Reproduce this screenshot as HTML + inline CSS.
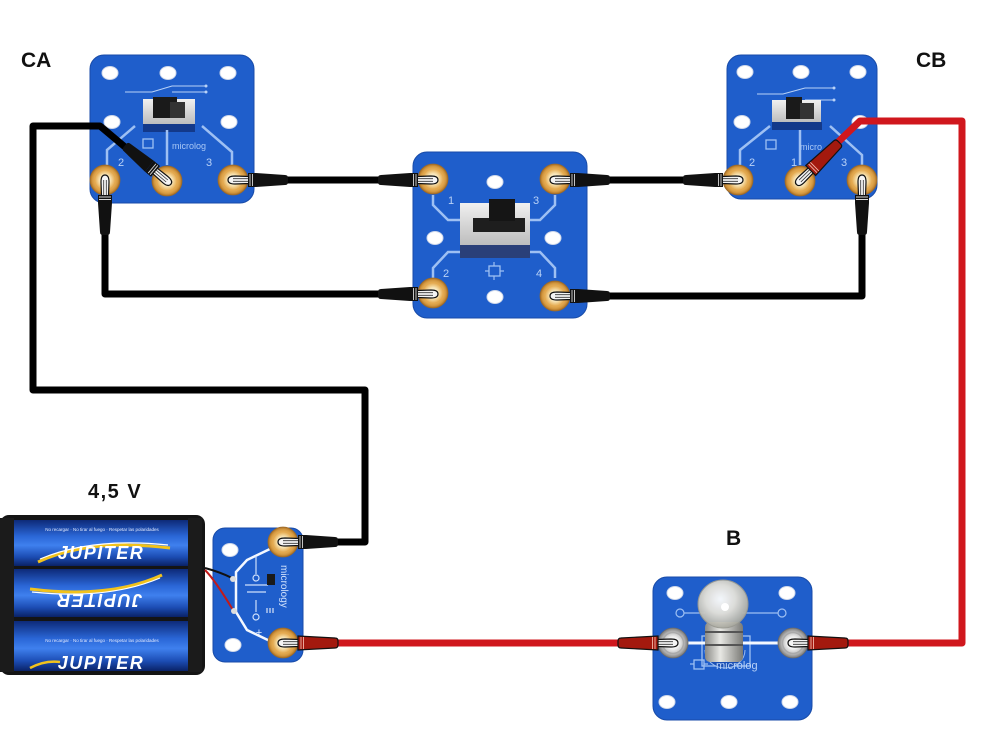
<!DOCTYPE html>
<html><head><meta charset="utf-8"><style>
html,body{margin:0;padding:0;background:#fff;}
svg{display:block;}
text{font-family:"Liberation Sans",sans-serif;}
</style></head><body>
<svg width="996" height="738" viewBox="0 0 996 738" xmlns="http://www.w3.org/2000/svg">
<defs>
 <radialGradient id="gold" cx="50%" cy="50%" r="50%">
  <stop offset="0" stop-color="#fffaf0"/>
  <stop offset="0.35" stop-color="#f8e6b8"/>
  <stop offset="0.6" stop-color="#e9b765"/>
  <stop offset="0.85" stop-color="#d3973e"/>
  <stop offset="1" stop-color="#a86c24"/>
 </radialGradient>
 <radialGradient id="silver" cx="50%" cy="50%" r="50%">
  <stop offset="0" stop-color="#ffffff"/>
  <stop offset="0.4" stop-color="#f0f0f0"/>
  <stop offset="0.7" stop-color="#c4c4c4"/>
  <stop offset="1" stop-color="#7a7a7a"/>
 </radialGradient>
 <linearGradient id="batt" x1="0" y1="0" x2="0" y2="1">
  <stop offset="0" stop-color="#0d2a78"/>
  <stop offset="0.35" stop-color="#2a66d6"/>
  <stop offset="0.55" stop-color="#3f80ee"/>
  <stop offset="0.8" stop-color="#1c4db4"/>
  <stop offset="1" stop-color="#0a2266"/>
 </linearGradient>
 <linearGradient id="sw" x1="0" y1="0" x2="0" y2="1">
  <stop offset="0" stop-color="#f0f0f0"/>
  <stop offset="1" stop-color="#bdbdbd"/>
 </linearGradient>
 <radialGradient id="glass" cx="45%" cy="40%" r="60%">
  <stop offset="0" stop-color="#ffffff"/>
  <stop offset="0.5" stop-color="#e6e3da"/>
  <stop offset="1" stop-color="#a9a9a0"/>
 </radialGradient>
 <linearGradient id="base" x1="0" y1="0" x2="1" y2="0">
  <stop offset="0" stop-color="#8a8a86"/>
  <stop offset="0.4" stop-color="#e8e8e4"/>
  <stop offset="1" stop-color="#7a7a76"/>
 </linearGradient>

 <g id="tg">
  <circle r="15" fill="url(#gold)" stroke="#9a6a2a" stroke-width="0.8"/>
  <circle r="10.5" fill="none" stroke="#e4a74c" stroke-width="1.5" opacity="0.8"/>
 </g>
 <g id="ts">
  <circle r="15" fill="url(#silver)" stroke="#6a6a6a" stroke-width="0.8"/>
  <circle r="10.5" fill="none" stroke="#aaa" stroke-width="1.5"/>
 </g>
 <g id="hole"><ellipse rx="8" ry="6.5" fill="#fff" stroke="#cfd8ea" stroke-width="1"/></g>

 <g id="pb">
  <path d="M-5,0 Q-5,-4 2,-4 L16,-3.5 L16,3.5 L2,4 Q-5,4 -5,0Z" fill="#f4f4f4" stroke="#111" stroke-width="1.2"/>
  <path d="M0,-1.3 L15,-1.3 M0,1.3 L15,1.3" stroke="#333" stroke-width="0.8"/>
  <rect x="15" y="-7" width="8" height="14" fill="#111"/>
  <path d="M17,-6V6 M19.5,-6V6" stroke="#d8d8d8" stroke-width="0.9"/>
  <path d="M23,-7 L52,-5 Q55,-5 55,-2 V2 Q55,5 52,5 L23,7Z" fill="#111"/>
 </g>
 <g id="pr">
  <path d="M-5,0 Q-5,-4 2,-4 L16,-3.5 L16,3.5 L2,4 Q-5,4 -5,0Z" fill="#f4f4f4" stroke="#111" stroke-width="1.2"/>
  <path d="M0,-1.3 L15,-1.3 M0,1.3 L15,1.3" stroke="#333" stroke-width="0.8"/>
  <path d="M15,-7 L52,-5 Q55,-5 55,-2 V2 Q55,5 52,5 L15,7Z" fill="#a3190e" stroke="#111" stroke-width="1.2"/>
  <path d="M18,-6V6 M20.5,-6V6" stroke="#f2b6a8" stroke-width="0.9"/>
 </g>
</defs>

<rect width="996" height="738" fill="#fff"/>

<!-- labels -->
<text x="21" y="67" font-size="21" font-weight="bold" fill="#111">CA</text>
<text x="916" y="67" font-size="21" font-weight="bold" fill="#111">CB</text>
<text x="88" y="498" font-size="20" font-weight="bold" fill="#111" letter-spacing="1.5">4,5 V</text>
<text x="726" y="545" font-size="21" font-weight="bold" fill="#111">B</text>

<!-- ============ CA board ============ -->
<rect x="90" y="55" width="164" height="148" rx="14" fill="#1f5ecb" stroke="#184ba8" stroke-width="1"/>
<use href="#hole" x="110" y="73"/><use href="#hole" x="168" y="73"/><use href="#hole" x="228" y="73"/>
<use href="#hole" x="112" y="122"/><use href="#hole" x="229" y="122"/>
<path d="M125,92 L152,92 L172,86 L180,86 L205,86 M172,92 L205,92" stroke="#b9d2f7" stroke-width="1" fill="none"/>
<circle cx="206" cy="86" r="1.5" fill="#b9d2f7"/><circle cx="206" cy="92" r="1.5" fill="#b9d2f7"/>
<rect x="143" y="124" width="52" height="8" fill="#13398a"/>
<path d="M107,165 L107,150 L135,126 M167,165 L167,130 M232,165 L232,152 L202,126" stroke="#9ec0f3" stroke-width="2.5" fill="none"/>
<rect x="143" y="99" width="52" height="25" fill="url(#sw)"/>
<rect x="153" y="97" width="24" height="21" fill="#1a1a1a"/>
<rect x="170" y="102" width="15" height="16" fill="#333"/>
<text x="118" y="166" font-size="11" fill="#b9d2f7">2</text>
<text x="206" y="166" font-size="11" fill="#b9d2f7">3</text>
<rect x="143" y="139" width="10" height="9" fill="none" stroke="#9ec0f3" stroke-width="1.3"/>
<text x="172" y="149" font-size="9" fill="#a9c8f6">microlog</text>
<use href="#tg" x="105" y="180"/><use href="#tg" x="167" y="181"/><use href="#tg" x="233" y="180"/>

<!-- ============ CB board ============ -->
<rect x="727" y="55" width="150" height="144" rx="14" fill="#1f5ecb" stroke="#184ba8" stroke-width="1"/>
<use href="#hole" x="745" y="72"/><use href="#hole" x="801" y="72"/><use href="#hole" x="858" y="72"/>
<use href="#hole" x="742" y="122"/><use href="#hole" x="860" y="122"/>
<path d="M757,94 L783,94 L805,88 L833,88 M805,100 L833,100" stroke="#b9d2f7" stroke-width="1" fill="none"/>
<circle cx="834" cy="88" r="1.5" fill="#b9d2f7"/><circle cx="834" cy="100" r="1.5" fill="#b9d2f7"/>
<rect x="772" y="122" width="50" height="8" fill="#13398a"/>
<path d="M740,165 L740,150 L770,126 M800,165 L800,130 M862,165 L862,155 L830,126" stroke="#9ec0f3" stroke-width="2.5" fill="none"/>
<rect x="772" y="100" width="49" height="22" fill="url(#sw)"/>
<rect x="786" y="97" width="16" height="22" fill="#1a1a1a"/>
<rect x="800" y="103" width="14" height="16" fill="#333"/>
<text x="749" y="166" font-size="11" fill="#b9d2f7">2</text>
<text x="791" y="166" font-size="11" fill="#b9d2f7">1</text>
<text x="841" y="166" font-size="11" fill="#b9d2f7">3</text>
<rect x="766" y="140" width="10" height="9" fill="none" stroke="#9ec0f3" stroke-width="1.3"/>
<text x="800" y="150" font-size="9" fill="#a9c8f6">micro</text>
<use href="#tg" x="738" y="180"/><use href="#tg" x="800" y="181"/><use href="#tg" x="862" y="180"/>

<!-- ============ Middle switch board ============ -->
<rect x="413" y="152" width="174" height="166" rx="14" fill="#1f5ecb" stroke="#184ba8" stroke-width="1"/>
<use href="#hole" x="495" y="182"/><use href="#hole" x="435" y="238"/><use href="#hole" x="553" y="238"/><use href="#hole" x="495" y="297"/>
<path d="M433,195 L433,205 L448,220 L462,220 M555,195 L555,205 L540,220 L528,220 M433,278 L433,268 L448,252 L462,252 M555,278 L555,268 L540,252 L528,252" stroke="#9ec0f3" stroke-width="2.5" fill="none"/>
<rect x="460" y="203" width="70" height="42" fill="url(#sw)"/>
<rect x="460" y="245" width="70" height="13" fill="#2a3f78"/>
<rect x="473" y="218" width="52" height="14" fill="#1e1e1e"/>
<rect x="489" y="199" width="26" height="22" fill="#151515"/>
<text x="448" y="204" font-size="11" fill="#b9d2f7">1</text>
<text x="533" y="204" font-size="11" fill="#b9d2f7">3</text>
<text x="443" y="277" font-size="11" fill="#b9d2f7">2</text>
<text x="536" y="277" font-size="11" fill="#b9d2f7">4</text>
<rect x="489" y="266" width="11" height="10" fill="none" stroke="#9ec0f3" stroke-width="1.3"/>
<path d="M485,271 H489 M500,271 H504 M494,262 V266 M494,276 V280" stroke="#9ec0f3" stroke-width="1.2"/>
<use href="#tg" x="433" y="179"/><use href="#tg" x="555" y="179"/><use href="#tg" x="433" y="293"/><use href="#tg" x="555" y="296"/>

<!-- ============ Battery holder ============ -->
<rect x="0" y="515" width="205" height="160" rx="9" fill="#141414"/>
<rect x="10" y="520" width="184" height="46" rx="4" fill="url(#batt)"/>
<rect x="10" y="569" width="184" height="48" rx="4" fill="url(#batt)"/>
<rect x="10" y="621" width="184" height="50" rx="4" fill="url(#batt)"/>
<rect x="0" y="518" width="14" height="154" fill="#1b1b1b"/>
<rect x="188" y="518" width="14" height="154" fill="#1b1b1b"/>
<text x="102" y="531" font-size="4.5" fill="#dfe8ff" text-anchor="middle">No recargar · No tirar al fuego · Respetar las polaridades</text>
<path d="M38,562 Q90,538 170,548" stroke="#f1c21c" stroke-width="3" fill="none"/>
<path d="M40,559 Q92,537 168,545" stroke="#fff" stroke-width="1.2" fill="none"/>
<text x="101" y="559" font-size="18" font-weight="bold" font-style="italic" fill="#fff" text-anchor="middle" letter-spacing="1.5">JUPITER</text>
<g transform="rotate(180 100 593)">
 <path d="M38,611 Q90,587 170,597" stroke="#f1c21c" stroke-width="3" fill="none"/>
 <path d="M40,608 Q92,586 168,594" stroke="#fff" stroke-width="1.2" fill="none"/>
 <text x="101" y="592" font-size="18" font-weight="bold" font-style="italic" fill="#fff" text-anchor="middle" letter-spacing="1.5">JUPITER</text>
</g>
<text x="102" y="642" font-size="4.5" fill="#dfe8ff" text-anchor="middle">No recargar · No tirar al fuego · Respetar las polaridades</text>
<text x="101" y="669" font-size="18" font-weight="bold" font-style="italic" fill="#fff" text-anchor="middle" letter-spacing="1.5">JUPITER</text>
<path d="M30,668 Q45,660 60,662" stroke="#f1c21c" stroke-width="2.5" fill="none"/>

<!-- ============ Battery board ============ -->
<rect x="213" y="528" width="90" height="134" rx="12" fill="#1f5ecb" stroke="#184ba8" stroke-width="1"/>
<use href="#hole" x="230" y="550"/><use href="#hole" x="233" y="645"/>
<path d="M272,548 L247,560 L236,572 L236,612 L247,630 L272,642" stroke="#f4f8ff" stroke-width="2.5" fill="none"/>
<path d="M256,556 V574 M256,600 V612 M245,585 H268 M247,592 H266" stroke="#cfe0fb" stroke-width="1.2" fill="none"/>
<circle cx="256" cy="578" r="3" fill="none" stroke="#cfe0fb" stroke-width="1.2"/>
<circle cx="256" cy="617" r="3" fill="none" stroke="#cfe0fb" stroke-width="1.2"/>
<text x="259" y="636" font-size="11" fill="#e6efff" text-anchor="middle">+</text>
<rect x="267" y="574" width="8" height="11" fill="#1a1a1a"/>
<path d="M267,608 V613 M270,608 V613 M273,608 V613" stroke="#fff" stroke-width="1"/>
<text transform="translate(281,565) rotate(90)" font-size="10" fill="#cfe0fb">micrology</text>
<path d="M205,568 Q220,572 232,578" stroke="#111" stroke-width="2" fill="none"/>
<path d="M205,570 Q215,580 233,610" stroke="#c21a1a" stroke-width="2" fill="none"/>
<circle cx="233" cy="579" r="3" fill="#ddd"/><circle cx="234" cy="611" r="3" fill="#ddd"/>
<use href="#tg" x="283" y="542"/><use href="#tg" x="283" y="643"/>

<!-- ============ Bulb board ============ -->
<rect x="653" y="577" width="159" height="143" rx="14" fill="#1f5ecb" stroke="#184ba8" stroke-width="1"/>
<use href="#hole" x="675" y="593"/><use href="#hole" x="787" y="593"/>
<use href="#hole" x="667" y="702"/><use href="#hole" x="729" y="702"/><use href="#hole" x="790" y="702"/>
<path d="M684,613 H705 M742,613 H778" stroke="#9ec0f3" stroke-width="1.2"/>
<circle cx="680" cy="613" r="4" fill="none" stroke="#9ec0f3" stroke-width="1.2"/>
<circle cx="782" cy="613" r="4" fill="none" stroke="#9ec0f3" stroke-width="1.2"/>
<rect x="702" y="636" width="48" height="30" fill="none" stroke="#9ec0f3" stroke-width="1.3"/>
<path d="M672,643 H792" stroke="#f4f8ff" stroke-width="3"/>
<path d="M705,650 A20,18 0 0 0 745,650" fill="#1a4fb4" stroke="#9ec0f3" stroke-width="1"/>
<rect x="705" y="622" width="38" height="40" rx="5" fill="url(#base)"/>
<path d="M705,632 H743 M705,645 H743" stroke="#555" stroke-width="2"/>
<ellipse cx="723" cy="604" rx="25" ry="24" fill="url(#glass)" stroke="#9a9a92" stroke-width="1" opacity="0.95"/>
<circle cx="725" cy="607" r="4" fill="#fff"/>
<rect x="694" y="660" width="10" height="9" fill="none" stroke="#9ec0f3" stroke-width="1.3"/>
<path d="M690,664 H694 M704,664 H708" stroke="#9ec0f3" stroke-width="1.2"/>
<text x="716" y="669" font-size="11" fill="#b9d2f7">microlog</text>
<use href="#ts" x="673" y="643"/><use href="#ts" x="793" y="643"/>

<!-- ============ Wires ============ -->
<g fill="none" stroke-linejoin="round" stroke-linecap="butt">
 <path d="M125,147 L100,126 L33,126 L33,390 L365,390 L365,542 L335,542" stroke="#000" stroke-width="7"/>
 <path d="M105,232 L105,294 L380,294" stroke="#000" stroke-width="7"/>
 <path d="M285,180 L381,180" stroke="#000" stroke-width="7"/>
 <path d="M607,180 L686,180" stroke="#000" stroke-width="7"/>
 <path d="M607,296 L862,296 L862,232" stroke="#000" stroke-width="7"/>
 <path d="M335,643 L620,643" stroke="#d0171d" stroke-width="7"/>
 <path d="M845,643 L962,643 L962,121 L860,121 L837,143" stroke="#d0171d" stroke-width="7"/>
</g>

<!-- plugs -->
<use href="#pb" transform="translate(167,181) rotate(-140)"/>
<use href="#pb" transform="translate(105,180) rotate(90)"/>
<use href="#pb" transform="translate(233,180)"/>
<use href="#pb" transform="translate(433,180) rotate(180)"/>
<use href="#pb" transform="translate(433,294) rotate(180)"/>
<use href="#pb" transform="translate(555,180)"/>
<use href="#pb" transform="translate(555,296)"/>
<use href="#pb" transform="translate(738,180) rotate(180)"/>
<use href="#pb" transform="translate(862,180) rotate(90)"/>
<use href="#pr" transform="translate(800,181) rotate(-44.5)"/>
<use href="#pb" transform="translate(283,542)"/>
<use href="#pr" transform="translate(283,643)"/>
<use href="#pr" transform="translate(673,643) rotate(180)"/>
<use href="#pr" transform="translate(793,643)"/>
</svg>
</body></html>
